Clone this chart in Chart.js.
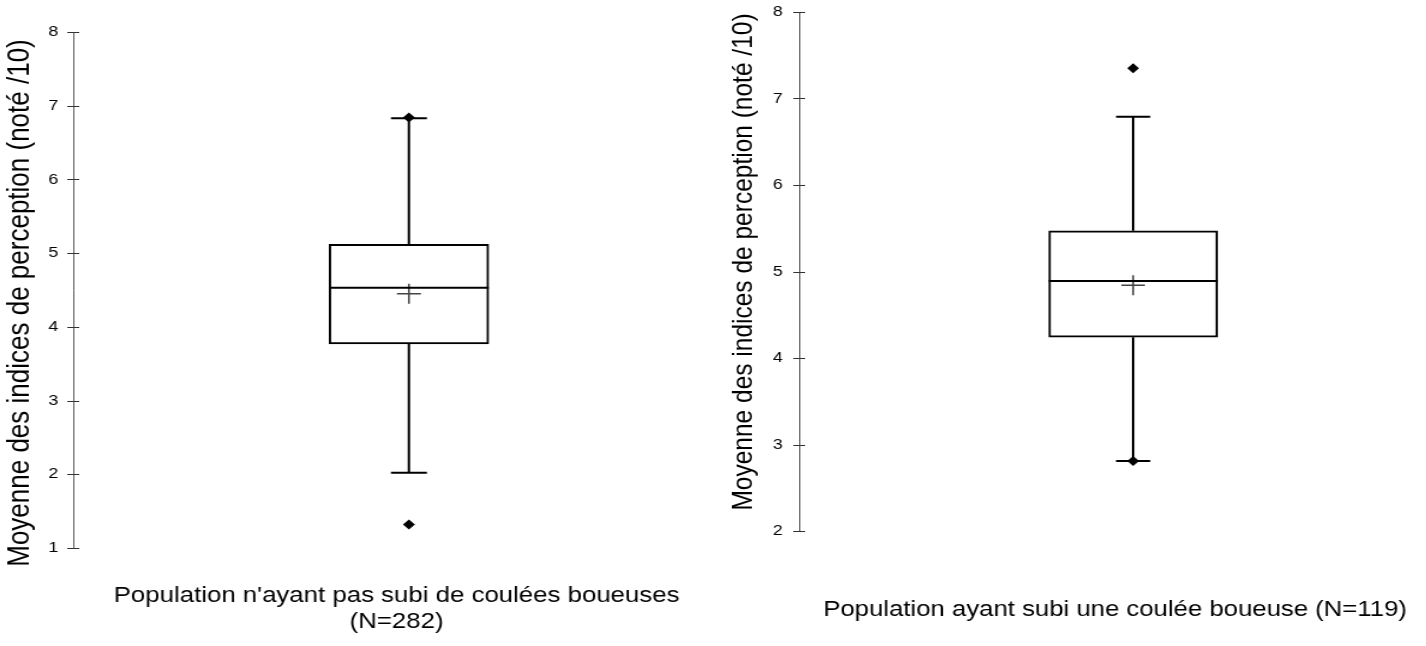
<!DOCTYPE html>
<html>
<head>
<meta charset="utf-8">
<script src="https://cdn.jsdelivr.net/npm/chart.js@4"></script>
<style>
  html, body { margin: 0; padding: 0; background: #fff; }
  body { width: 1426px; height: 646px; position: relative; overflow: hidden; }
  canvas { position: absolute; top: 0; transform-origin: 0 0; }
  /* both panels of the original are stretched sideways */
  #chartLeft { left: 0; transform: scaleX(1.2); }
  #chartRight { left: 700px; transform: scaleX(1.18); }
</style>
</head>
<body>
<canvas id="chartLeft" width="630" height="646"></canvas>
<canvas id="chartRight" width="640" height="646"></canvas>
<script>
// Data
const groupLabels = [
    ["Population n'ayant pas subi de coulées boueuses", "(N=282)"],
    "Population ayant subi une coulée boueuse (N=119)"
];
const whiskerLow  = [2.02, 2.81];
const quartile1   = [3.77, 4.24];
const medians     = [4.53, 4.89];
const means       = [4.45, 4.84];
const quartile3   = [5.12, 5.47];
const whiskerHigh = [6.83, 6.79];
const outliers    = [[1.32, 6.84], [7.35, 2.81]];
const yMin = [1, 2];
const yMax = [8, 8];
const yTitle = 'Moyenne des indices de perception (noté /10)';

// Layout per panel (canvas pixels, styles only)
const layoutCfg = [
    { axisWidth: 61, xHeight: 98, padTop: 32, padRight: 30, xTitlePad: 11,
      titleX: 17, titleY: 303, titleSize: 26, labelSize: 21.5,
      tickLen: 10, tickPad: 2.5, tickHalf: 5,
      boxPos: 0.519, boxWidth: 133, capWidth: 30 },
    { axisWidth: 84, xHeight: 115, padTop: 12, padRight: 20.5, xTitlePad: 23,
      titleX: 37, titleY: 262, titleSize: 24.5, labelSize: 21.8,
      tickLen: 12, tickPad: 2, tickHalf: 5,
      boxPos: 0.5286, boxWidth: 143, capWidth: 29 }
];

const FONT = 'Liberation Sans, Arial, sans-serif';

// Whiskers, caps, median line, axis tick marks and the y title
const boxPlotLines = {
    id: 'boxPlotLines',
    afterDatasetsDraw(chart) {
        const i = chart.options.plugins.boxPlotLines.index;
        const cfg = layoutCfg[i];
        const xs = chart.scales.x, ys = chart.scales.y;
        const ctx = chart.ctx;
        const cx = xs.getPixelForValue(cfg.boxPos);
        const half = cfg.boxWidth / 2;
        const capHalf = cfg.capWidth / 2;
        const yLo = ys.getPixelForValue(whiskerLow[i]);
        const yQ1 = ys.getPixelForValue(quartile1[i]);
        const yQ3 = ys.getPixelForValue(quartile3[i]);
        const yHi = ys.getPixelForValue(whiskerHigh[i]);
        const yMed = ys.getPixelForValue(medians[i]);
        ctx.save();
        ctx.strokeStyle = '#000';
        ctx.lineWidth = 2;
        ctx.beginPath();
        ctx.moveTo(cx, yQ3); ctx.lineTo(cx, yHi);
        ctx.moveTo(cx - capHalf, yHi); ctx.lineTo(cx + capHalf, yHi);
        ctx.moveTo(cx, yQ1); ctx.lineTo(cx, yLo);
        ctx.moveTo(cx - capHalf, yLo); ctx.lineTo(cx + capHalf, yLo);
        ctx.moveTo(cx - half, yMed); ctx.lineTo(cx + half, yMed);
        ctx.stroke();

        // tick marks crossing the axis line
        ctx.strokeStyle = '#333';
        ctx.lineWidth = 1;
        ctx.beginPath();
        ys.ticks.forEach(t => {
            const y = Math.round(ys.getPixelForValue(t.value)) + 0.5;
            ctx.moveTo(ys.right - cfg.tickHalf, y);
            ctx.lineTo(ys.right + cfg.tickHalf, y);
        });
        ctx.stroke();

        // y axis title, placed like the original (not centred on the axis)
        ctx.translate(cfg.titleX, cfg.titleY);
        ctx.rotate(-Math.PI / 2);
        ctx.fillStyle = '#000';
        ctx.font = cfg.titleSize + 'px ' + FONT;
        ctx.textAlign = 'center';
        ctx.textBaseline = 'middle';
        ctx.fillText(yTitle, 0, 0);
        ctx.restore();
    }
};

function makeChart(canvasId, i) {
    const cfg = layoutCfg[i];
    return new Chart(document.getElementById(canvasId), {
        type: 'bar',
        data: {
            datasets: [{
                type: 'bar',
                data: [{ x: cfg.boxPos, y: [quartile1[i], quartile3[i]] }],
                backgroundColor: '#fff',
                borderColor: '#000',
                borderWidth: 2,
                borderSkipped: false,
                barThickness: cfg.boxWidth,
                order: 3
            }, {
                type: 'scatter',
                data: [{ x: cfg.boxPos, y: means[i] }],
                pointStyle: 'cross',
                radius: 10,
                borderColor: '#444',
                borderWidth: 1.5,
                order: 1
            }, {
                type: 'scatter',
                data: outliers[i].map(v => ({ x: cfg.boxPos, y: v })),
                pointStyle: 'rectRot',
                radius: 5,
                backgroundColor: '#000',
                borderColor: '#000',
                borderWidth: 0,
                order: 0
            }]
        },
        options: {
            responsive: false,
            animation: false,
            events: [],
            layout: { padding: { top: cfg.padTop, right: cfg.padRight, bottom: 0, left: 0 } },
            plugins: {
                legend: { display: false },
                tooltip: { enabled: false },
                boxPlotLines: { index: i }
            },
            scales: {
                x: {
                    type: 'linear',
                    min: 0,
                    max: 1,
                    offset: false,
                    grid: { display: false },
                    border: { display: false },
                    ticks: { display: false },
                    title: {
                        display: true,
                        text: groupLabels[i],
                        color: '#000',
                        font: { family: FONT, size: cfg.labelSize },
                        padding: { top: 0, bottom: cfg.xTitlePad }
                    },
                    afterFit(scale) { scale.height = cfg.xHeight; }
                },
                y: {
                    min: yMin[i],
                    max: yMax[i],
                    ticks: {
                        stepSize: 1,
                        color: '#000',
                        padding: cfg.tickPad,
                        font: { family: FONT, size: 15 }
                    },
                    grid: { drawOnChartArea: false, drawTicks: true, tickLength: cfg.tickLen, tickColor: 'rgba(0,0,0,0)' },
                    border: { display: true, color: '#555', width: 1 },
                    title: { display: false },
                    afterFit(scale) { scale.width = cfg.axisWidth; }
                }
            }
        },
        plugins: [boxPlotLines]
    });
}

makeChart('chartLeft', 0);
makeChart('chartRight', 1);
</script>
</body>
</html>
